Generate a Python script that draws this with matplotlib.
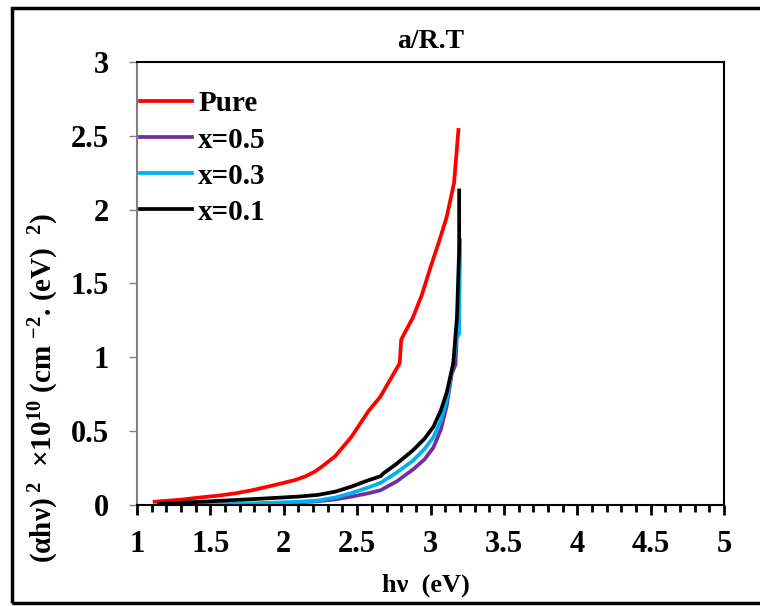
import matplotlib
matplotlib.use("Agg")
import matplotlib.pyplot as plt
from matplotlib.patches import Rectangle
from matplotlib.ticker import MultipleLocator

plt.rcParams["font.family"] = ["Liberation Serif", "DejaVu Serif"]
plt.rcParams["font.weight"] = "bold"
plt.rcParams["mathtext.fontset"] = "custom"
plt.rcParams["mathtext.rm"] = "Liberation Serif:bold"
plt.rcParams["mathtext.it"] = "Liberation Serif:bold"
plt.rcParams["mathtext.bf"] = "Liberation Serif:bold"

# values
pure_x = [1.12, 1.3, 1.44, 1.56, 1.67, 1.78, 1.89, 2.0, 2.08, 2.15, 2.21, 2.26, 2.35, 2.46, 2.52,
          2.58, 2.656, 2.72, 2.79, 2.80, 2.88, 2.94, 3.0, 3.06, 3.11, 3.16, 3.19]
pure_y = [0.022, 0.036, 0.052, 0.064, 0.079, 0.099, 0.124, 0.15, 0.17, 0.195, 0.225, 0.26, 0.33,
          0.46, 0.55, 0.64, 0.73, 0.84, 0.96, 1.12, 1.27, 1.42, 1.61, 1.79, 1.95, 2.18, 2.54]

x05_x = [1.2, 1.6, 1.9, 2.1, 2.23, 2.35, 2.46, 2.58, 2.66, 2.77, 2.88, 2.96, 3.02, 3.07, 3.11,
         3.145, 3.17, 3.19, 3.20]
x05_y = [0.0, 0.004, 0.01, 0.017, 0.025, 0.038, 0.056, 0.08, 0.10, 0.16, 0.24, 0.31, 0.39, 0.51,
         0.67, 0.89, 0.95, 1.4, 1.79]

x03_x = [1.2, 1.6, 1.9, 2.1, 2.23, 2.35, 2.46, 2.58, 2.66, 2.77, 2.88, 2.96, 3.02, 3.07, 3.11,
         3.155, 3.175, 3.195, 3.20]
x03_y = [0.0, 0.006, 0.014, 0.022, 0.03, 0.05, 0.08, 0.12, 0.15, 0.22, 0.30, 0.38, 0.46, 0.57,
         0.71, 0.96, 1.12, 1.16, 1.73]

x01_x = [1.15, 1.5, 1.89, 2.1, 2.23, 2.35, 2.46, 2.57, 2.66, 2.68, 2.77, 2.88, 2.96, 3.02, 3.07,
         3.11, 3.155, 3.18, 3.195, 3.195]
x01_y = [0.008, 0.025, 0.045, 0.057, 0.068, 0.09, 0.124, 0.165, 0.195, 0.215, 0.28, 0.37, 0.45,
         0.53, 0.64, 0.76, 0.96, 1.27, 1.73, 2.13]

series = [
    ("Pure", pure_x, pure_y, "#ff0000"),
    ("x=0.5", x05_x, x05_y, "#7030a0"),
    ("x=0.3", x03_x, x03_y, "#00b0f0"),
    ("x=0.1", x01_x, x01_y, "#000000"),
]

fig = plt.figure(figsize=(7.6, 6.06), dpi=100)
ax = fig.add_axes([0.1803, 0.1667, 0.7724, 0.731])

for label, xs, ys, col in series:
    ax.plot(xs, ys, color=col, lw=2.7, label=label, solid_joinstyle="round")

ax.set_xlim(1, 5)
ax.set_ylim(0, 3)
ax.xaxis.set_major_locator(MultipleLocator(0.5))
ax.xaxis.set_minor_locator(MultipleLocator(0.1))
ax.yaxis.set_major_locator(MultipleLocator(0.5))
ax.xaxis.set_major_formatter(lambda v, p: f"{v:g}")
ax.yaxis.set_major_formatter(lambda v, p: f"{v:g}")

for s in ["top", "right", "bottom"]:
    ax.spines[s].set_color("black")
    ax.spines[s].set_linewidth(1.5)
ax.spines["left"].set_color("#808080")
ax.spines["left"].set_linewidth(1.5)

ax.tick_params(axis="x", which="major", direction="out", length=7, width=2,
               color="black", labelsize=22, pad=11)
ax.tick_params(axis="x", which="minor", direction="out", length=5, width=2, color="black")
ax.tick_params(axis="y", which="major", direction="out", length=6, width=1,
               color="#808080", labelsize=22, pad=14)
for t in ax.get_xticklabels() + ax.get_yticklabels():
    t.set_fontweight("bold")

ax.set_title("a/R.T", fontsize=20, fontweight="bold", pad=10)

leg = ax.legend(loc="upper left", frameon=False, fontsize=21, handlelength=1.8,
                handletextpad=0.2, labelspacing=0.31, borderaxespad=0,
                bbox_to_anchor=(-0.015, 0.962))
for t in leg.get_texts():
    t.set_fontweight("bold")

fig.text(0.56, 0.035, "h\u03bd  (eV)", ha="center", va="center",
         fontsize=19, fontweight="bold")
fig.text(0.058, 0.36,
         "(\u03b1h\u03bd)$^{\\ 2}$  \u00d710$^{10}$ (cm $^{-2}$. (eV) $^{\\ 2}$)",
         ha="center", va="center", rotation=90, fontsize=21, fontweight="bold")

fig.patches.append(Rectangle((0.016, 0.005), 1.2, 0.982, transform=fig.transFigure,
                             fill=False, ec="black", lw=2.5, clip_on=False))

fig.savefig("out.png", dpi=100)
